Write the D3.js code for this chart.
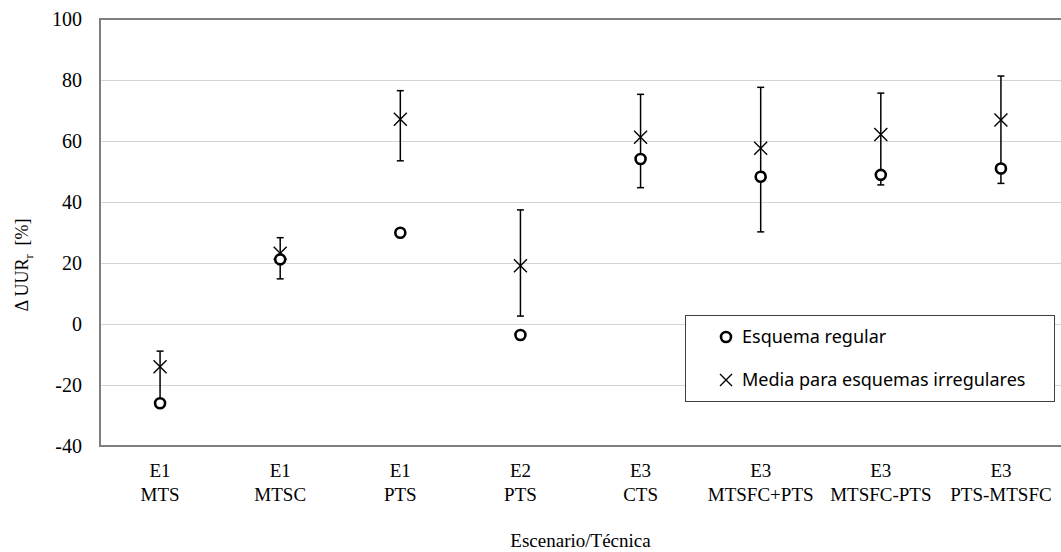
<!DOCTYPE html>
<html>
<head>
<meta charset="utf-8">
<script src="https://cdn.jsdelivr.net/npm/d3@7"></script>
<style>
  html, body { margin: 0; padding: 0; background: #fff; }
  svg { display: block; }
</style>
</head>
<body>
<svg id="chart" width="1061" height="552"></svg>
<script>
const scenarios = ["E1", "E1", "E1", "E2", "E3", "E3", "E3", "E3"];
const techniques = ["MTS", "MTSC", "PTS", "PTS", "CTS", "MTSFC+PTS", "MTSFC-PTS", "PTS-MTSFC"];
const regular = [-26, 21.2, 29.9, -3.6, 54.1, 48.3, 48.9, 51.0];
const irregularMean = [-14, 23.2, 67.1, 19.1, 61.2, 57.6, 62.1, 66.9];
const irregularLow = [-27, 14.8, 53.5, 2.6, 44.7, 30.2, 45.6, 46.1];
const irregularHigh = [-8.9, 28.3, 76.5, 37.4, 75.3, 77.6, 75.7, 81.3];
const yTicks = [-40, -20, 0, 20, 40, 60, 80, 100];
const legendLabels = ["Esquema regular", "Media para esquemas irregulares"];
const xTitle = "Escenario/Técnica";

(function () {
const svg = d3.select("#chart");
const mLeft = 100, mRight = 1061, mTop = 19, mBottom = 446;
const serif = "'Liberation Serif', 'Times New Roman', serif";
const sans = "'Noto Sans', 'Open Sans', sans-serif";

const idx = d3.range(techniques.length);
const x = d3.scaleBand().domain(idx).range([mLeft, mRight]).padding(0);
const y = d3.scaleLinear().domain([-40, 100]).range([mBottom, mTop]);
const cx = i => x(i) + x.bandwidth() / 2;

// gridlines
const grid = svg.append("g").attr("transform", `translate(${mLeft},0)`)
  .call(d3.axisLeft(y).tickValues(yTicks.filter(v => v !== -40 && v !== 100)).tickSize(-(mRight - mLeft)).tickFormat(""));
grid.select(".domain").remove();
grid.selectAll("line").attr("stroke", "#d4d4d4").attr("stroke-width", 1);

// y axis labels
const yAxis = svg.append("g").attr("transform", `translate(${mLeft},0)`)
  .call(d3.axisLeft(y).tickValues(yTicks).tickSize(0).tickPadding(18).tickFormat(d => String(d)));
yAxis.select(".domain").remove();
yAxis.attr("font-family", null).attr("font-size", null);
yAxis.selectAll("text").style("font-family", serif).style("font-size", "20px").attr("fill", "#000");

// frame: left, top, bottom
svg.append("path")
  .attr("d", `M${mRight},${y(100)}H${mLeft}V${y(-40)}H${mRight}`)
  .attr("fill", "none").attr("stroke", "#7f7f7f").attr("stroke-width", 2);

// x labels
const xl = svg.append("g");
idx.forEach(i => {
  const t = xl.append("text").attr("x", cx(i)).attr("text-anchor", "middle")
    .style("font-family", serif).style("font-size", "19px").attr("fill", "#000");
  t.append("tspan").attr("x", cx(i)).attr("y", 477).text(scenarios[i]);
  t.append("tspan").attr("x", cx(i)).attr("y", 501).text(techniques[i]);
});

// axis titles
svg.append("text").attr("x", (mLeft + mRight) / 2).attr("y", 547).attr("text-anchor", "middle")
  .style("font-family", serif).style("font-size", "19px").text(xTitle);

const yt = svg.append("text").attr("transform", "translate(28,265) rotate(-90)").attr("text-anchor", "middle")
  .style("font-family", serif).style("font-size", "18px").attr("xml:space", "preserve");
yt.append("tspan").text("Δ UUR");
yt.append("tspan").style("font-size", "12px").attr("dy", 5).text("r");
yt.append("tspan").attr("dy", -5).text("  [%]");

// error bars
const eb = svg.append("g").attr("stroke", "#000").attr("stroke-width", 1.5);
idx.forEach(i => {
  eb.append("line").attr("x1", cx(i)).attr("x2", cx(i)).attr("y1", y(irregularLow[i])).attr("y2", y(irregularHigh[i]));
  [irregularLow[i], irregularHigh[i]].forEach(v => {
    eb.append("line").attr("x1", cx(i) - 3.5).attr("x2", cx(i) + 3.5).attr("y1", y(v)).attr("y2", y(v));
  });
});

// X markers
const xm = (g, px, py, s) => {
  g.append("path").attr("d", `M${px - s},${py - s}L${px + s},${py + s}M${px - s},${py + s}L${px + s},${py - s}`)
    .attr("stroke", "#000").attr("stroke-width", 1.4).attr("fill", "none");
};
const xg = svg.append("g");
idx.forEach(i => xm(xg, cx(i), y(irregularMean[i]), 6.5));

// circles
svg.append("g").selectAll("circle").data(idx).join("circle")
  .attr("cx", i => cx(i)).attr("cy", i => y(regular[i])).attr("r", 5)
  .attr("fill", "#fff").attr("stroke", "#000").attr("stroke-width", 2.6);

// legend
const lg = svg.append("g");
lg.append("rect").attr("x", 685.5).attr("y", 315.5).attr("width", 369).attr("height", 86)
  .attr("fill", "#fff").attr("stroke", "#404040").attr("stroke-width", 1);
lg.append("circle").attr("cx", 726).attr("cy", 337).attr("r", 5)
  .attr("fill", "#fff").attr("stroke", "#000").attr("stroke-width", 2.6);
xm(lg, 726, 380, 6);
lg.append("text").attr("x", 742).attr("y", 343).style("font-family", sans).style("font-size", "18px").text(legendLabels[0]);
lg.append("text").attr("x", 742).attr("y", 386).style("font-family", sans).style("font-size", "18px").text(legendLabels[1]);
})();
</script>
</body>
</html>
